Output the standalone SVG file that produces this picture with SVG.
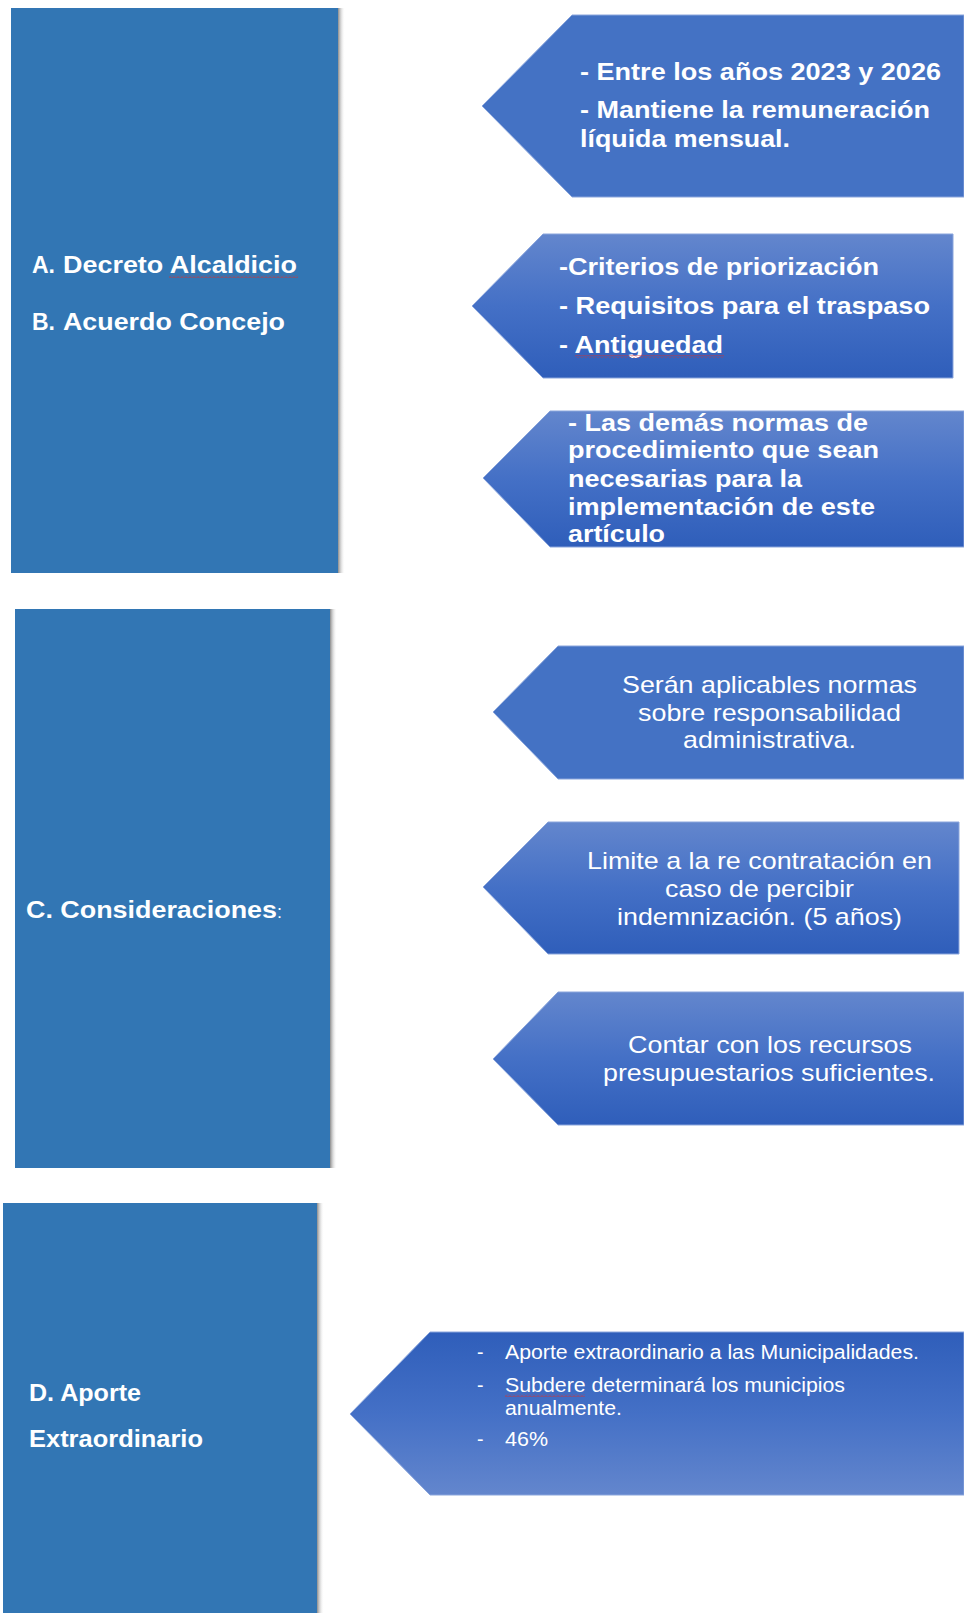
<svg xmlns="http://www.w3.org/2000/svg" width="964" height="1613" viewBox="0 0 964 1613">
<defs>
<style>
.box{fill:#3276b4}
.shadow{fill:url(#sh)}
.t{font-family:"Liberation Sans",Arial,sans-serif;fill:#ffffff}
.h{font-size:23px;font-weight:bold}
.p{font-size:23px;font-weight:bold}
.r{font-size:24px}
.s{font-size:19.5px}
.solid{fill:#4472c4;stroke:#8aa5dc;stroke-width:1}
.grad{fill:url(#g1);stroke:#8aa5dc;stroke-width:1}
.gradr{fill:url(#g2);stroke:#8aa5dc;stroke-width:1}
.wavy{fill:url(#wv)}
</style>
<pattern id="wv" x="0" y="0" width="4" height="3" patternUnits="userSpaceOnUse">
<polyline points="0,2.5 2,0.5 4,2.5" fill="none" stroke="#d9302c" stroke-width="0.8"/>
</pattern>
<linearGradient id="g1" x1="0" y1="0" x2="0" y2="1">
<stop offset="0" stop-color="#6386cd"/>
<stop offset="0.5" stop-color="#4470c6"/>
<stop offset="1" stop-color="#2f5eba"/>
</linearGradient>
<linearGradient id="g2" x1="0" y1="0" x2="0" y2="1">
<stop offset="0" stop-color="#2f5eba"/>
<stop offset="0.5" stop-color="#4470c6"/>
<stop offset="1" stop-color="#6386cd"/>
</linearGradient>
<linearGradient id="sh" x1="0" y1="0" x2="1" y2="0">
<stop offset="0" stop-color="#8c8c8c"/>
<stop offset="1" stop-color="#ffffff" stop-opacity="0"/>
</linearGradient>
</defs>
<rect width="964" height="1613" fill="#ffffff"/>

<g id="box-ab">
<rect class="shadow" x="338" y="8" width="7" height="565"/>
<rect class="box" x="11" y="8" width="327" height="565"/>
<text class="t h" x="32" y="273">A.</text>
<text class="t h" x="63" y="273" textLength="234" lengthAdjust="spacingAndGlyphs">Decreto Alcaldicio</text>
<rect class="wavy" x="169" y="275" width="129" height="3"/>
<text class="t h" x="32" y="330">B.</text>
<text class="t h" x="63" y="330" textLength="222" lengthAdjust="spacingAndGlyphs">Acuerdo Concejo</text>
</g>

<g id="box-c">
<rect class="shadow" x="330" y="609" width="7" height="559"/>
<rect class="box" x="15" y="609" width="315" height="559"/>
<text class="t h" x="26" y="918" textLength="251" lengthAdjust="spacingAndGlyphs">C. Consideraciones</text>
<text class="t" x="277" y="918" font-size="18">:</text>
</g>

<g id="box-d">
<rect class="shadow" x="317" y="1203" width="7" height="410"/>
<rect class="box" x="3" y="1203" width="314" height="410"/>
<text class="t h" x="29" y="1401" textLength="112" lengthAdjust="spacingAndGlyphs">D. Aporte</text>
<text class="t h" x="29" y="1447" textLength="174" lengthAdjust="spacingAndGlyphs">Extraordinario</text>
</g>

<g id="arrow-1">
<polygon class="solid" points="482,106 572,15 964,15 964,197 572,197"/>
<text class="t p" x="580" y="80" textLength="361" lengthAdjust="spacingAndGlyphs">- Entre los años 2023 y 2026</text>
<text class="t p" x="580" y="118" textLength="350" lengthAdjust="spacingAndGlyphs">- Mantiene la remuneración</text>
<text class="t p" x="580" y="147" textLength="210" lengthAdjust="spacingAndGlyphs">líquida mensual.</text>
</g>

<g id="arrow-2">
<polygon class="grad" points="472,306 543,234 953,234 953,378 543,378"/>
<text class="t p" x="559" y="275" textLength="320" lengthAdjust="spacingAndGlyphs">-Criterios de priorización</text>
<text class="t p" x="559" y="314" textLength="371" lengthAdjust="spacingAndGlyphs">- Requisitos para el traspaso</text>
<text class="t p" x="559" y="353" textLength="164" lengthAdjust="spacingAndGlyphs">- Antiguedad</text>
<rect class="wavy" x="575" y="355" width="149" height="3"/>
</g>

<g id="arrow-3">
<polygon class="grad" points="483,478 550,411 964,411 964,547 550,547"/>
<text class="t p" x="568" y="431" textLength="300" lengthAdjust="spacingAndGlyphs">- Las demás normas de</text>
<text class="t p" x="568" y="458" textLength="311" lengthAdjust="spacingAndGlyphs">procedimiento que sean</text>
<text class="t p" x="568" y="487" textLength="234" lengthAdjust="spacingAndGlyphs">necesarias para la</text>
<text class="t p" x="568" y="515" textLength="307" lengthAdjust="spacingAndGlyphs">implementación de este</text>
<text class="t p" x="568" y="542" textLength="97" lengthAdjust="spacingAndGlyphs">artículo</text>
</g>

<g id="arrow-4">
<polygon class="solid" points="493,712 558,646 964,646 964,779 558,779"/>
<text class="t r" x="622" y="693" textLength="295" lengthAdjust="spacingAndGlyphs">Serán aplicables normas</text>
<text class="t r" x="638" y="721" textLength="263" lengthAdjust="spacingAndGlyphs">sobre responsabilidad</text>
<text class="t r" x="683" y="748" textLength="173" lengthAdjust="spacingAndGlyphs">administrativa.</text>
</g>

<g id="arrow-5">
<polygon class="grad" points="483,887 548,822 959,822 959,954 548,954"/>
<text class="t r" x="587" y="869" textLength="345" lengthAdjust="spacingAndGlyphs">Limite a la re contratación en</text>
<text class="t r" x="665" y="897" textLength="189" lengthAdjust="spacingAndGlyphs">caso de percibir</text>
<text class="t r" x="617" y="925" textLength="285" lengthAdjust="spacingAndGlyphs">indemnización. (5 años)</text>
</g>

<g id="arrow-6">
<polygon class="grad" points="493,1059 558,992 964,992 964,1125 558,1125"/>
<text class="t r" x="628" y="1053" textLength="284" lengthAdjust="spacingAndGlyphs">Contar con los recursos</text>
<text class="t r" x="603" y="1081" textLength="332" lengthAdjust="spacingAndGlyphs">presupuestarios suficientes.</text>
</g>

<g id="arrow-7">
<polygon class="gradr" points="350,1414 430,1332 964,1332 964,1495 430,1495"/>
<text class="t s" x="477" y="1359">-</text>
<text class="t s" x="505" y="1359" textLength="414" lengthAdjust="spacingAndGlyphs">Aporte extraordinario a las Municipalidades.</text>
<text class="t s" x="477" y="1392">-</text>
<text class="t s" x="505" y="1392" textLength="340" lengthAdjust="spacingAndGlyphs">Subdere determinará los municipios</text>
<rect class="wavy" x="505" y="1394" width="80" height="3"/>
<text class="t s" x="505" y="1415" textLength="117" lengthAdjust="spacingAndGlyphs">anualmente.</text>
<text class="t s" x="477" y="1446">-</text>
<text class="t s" x="505" y="1446" textLength="43" lengthAdjust="spacingAndGlyphs">46%</text>
</g>

<g id="connectors"></g>
</svg>
